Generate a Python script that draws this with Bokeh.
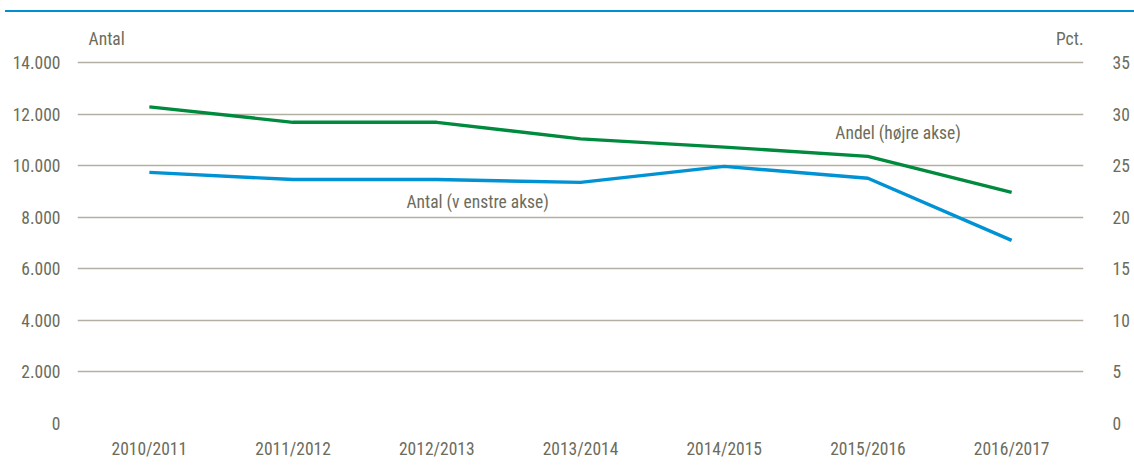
from bokeh.plotting import figure
from bokeh.models import (FactorRange, Range1d, LinearAxis, FixedTicker,
                          CustomJSTickFormatter, Label, Div)
from bokeh.layouts import column
from bokeh.embed import file_html
from bokeh.resources import INLINE

# ---- data ----
seasons = ["2010/2011", "2011/2012", "2012/2013", "2013/2014",
           "2014/2015", "2015/2016", "2016/2017"]
antal = [9740, 9460, 9460, 9350, 9970, 9510, 7100]          # left axis (count)
andel = [30.7, 29.2, 29.2, 27.6, 26.8, 25.9, 22.4]          # right axis (pct)
left_ticks = [0, 2000, 4000, 6000, 8000, 10000, 12000, 14000]
right_ticks = [0, 5, 10, 15, 20, 25, 30, 35]

FONT = "Liberation Sans Narrow, Roboto Condensed, Liberation Sans"
FS = "17.5px"
TXT = "#6c6c5c"
GRID = "#b3b0a3"

FIG_TOP = 14                     # page y where the figure starts
FIG_H = 466 - FIG_TOP
# frame spans page y FIG_TOP..423; grid top (14000 / 35) sits at page y 62
LEFT_TOP = 14000 + (62 - FIG_TOP) / 361 * 14000
RIGHT_TOP = 35 + (62 - FIG_TOP) / 361 * 35

p = figure(width=1134, height=FIG_H, x_range=FactorRange(*seasons),
           y_range=Range1d(0, LEFT_TOP), output_backend="svg",
           toolbar_location=None, min_border_left=77, min_border_right=51,
           min_border_top=0, min_border_bottom=466 - 423, margin=0)
p.outline_line_color = None
p.background_fill_color = "white"
p.border_fill_color = "white"

p.extra_y_ranges = {"pct": Range1d(0, RIGHT_TOP)}
ax_r = LinearAxis(y_range_name="pct", ticker=FixedTicker(ticks=right_ticks))
p.add_layout(ax_r, "right")

p.yaxis[0].ticker = FixedTicker(ticks=left_ticks)
p.yaxis[0].formatter = CustomJSTickFormatter(
    code="return tick.toString().replace(/\\B(?=(\\d{3})+(?!\\d))/g, '.');")

for ax in [p.yaxis[0], ax_r, p.xaxis[0]]:
    ax.axis_label = None
    ax.axis_line_color = None
    ax.major_tick_line_color = None
    ax.minor_tick_line_color = None
    ax.major_tick_out = 0
    ax.major_tick_in = 0
    ax.minor_tick_out = 0
    ax.minor_tick_in = 0
    ax.major_label_text_font = FONT
    ax.major_label_text_font_size = FS
    ax.major_label_text_color = TXT
p.yaxis[0].major_label_standoff = 17
ax_r.major_label_standoff = 29
p.xaxis[0].major_label_standoff = 15

p.xgrid.grid_line_color = None
p.ygrid.grid_line_color = GRID
p.ygrid.grid_line_width = 1.6
p.ygrid.ticker = FixedTicker(ticks=left_ticks)

p.line(seasons, antal, line_color="#0092d3", line_width=3.4)
p.line(seasons, andel, y_range_name="pct", line_color="#008a3d", line_width=3.4)

def lab(x, y, text, align="left"):
    p.add_layout(Label(x=x, y=y, text=text, text_font=FONT, text_font_size=FS,
                       text_color=TXT, text_align=align, text_baseline="middle"))

lab(0.077, 14892, "Antal")
lab(7.0, 14892, "Pct.", align="right")
lab(2.784, 8571, "Antal (v enstre akse)", align="center")
lab(5.71, 11247, "Andel (højre akse)", align="center")

# blue rule across the top of the page
rule = Div(text="", width=1129, height=2, margin=(10, 0, 2, 5),
           background="#0090d0", styles={"background-color": "#0090d0"})

layout = column(rule, p, spacing=0)
open("out.html", "w").write(file_html(layout, INLINE))
